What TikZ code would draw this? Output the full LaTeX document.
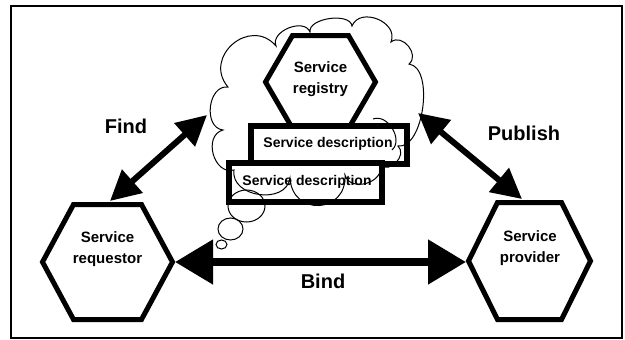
\documentclass[tikz,border=0pt]{standalone}
\usepackage{fontspec}
\setmainfont{Liberation Sans}
\usetikzlibrary{arrows.meta}
\newcommand{\hexagonat}[5]{%
  \draw[hexline] (#1-#3,#2) -- (#1-#5,#2-#4) -- (#1+#5,#2-#4) -- (#1+#3,#2)
    -- (#1+#5,#2+#4) -- (#1-#5,#2+#4) -- cycle;}
\begin{document}
\begin{tikzpicture}[x=1pt,y=-1pt,
  hexline/.style={line width=5pt, fill=white, line join=miter},
  descbox/.style={draw, line width=6pt, fill=white, inner sep=0pt},
  lbl/.style={font=\fontsize{20}{24}\selectfont\bfseries, inner sep=0pt},
  hextext/.style={font=\fontsize{15}{21}\selectfont\bfseries, align=center, inner sep=0pt},
  desctext/.style={font=\fontsize{14}{16}\selectfont\bfseries},
  cloudline/.style={line width=1pt},
  fparrow/.style={line width=6pt, {Triangle[length=30pt,width=30pt]}-{Triangle[length=30pt,width=30pt]}},
  bindarrow/.style={line width=8pt, {Triangle[length=38pt,width=43pt]}-{Triangle[length=38pt,width=43pt]}}
]
\useasboundingbox (0,0) rectangle (625,340);
\draw[line width=2pt] (11,5.7) rectangle (621.7,338.3);

% anchor points
\coordinate (reqN) at (110,201);
\coordinate (reqE) at (175,262);
\coordinate (provN) at (522,199);
\coordinate (provW) at (466,262);
\coordinate (cloudL) at (207,115);
\coordinate (cloudR) at (418,113);

% arrows
\draw[fparrow] (reqN) -- (cloudL);
\draw[fparrow] (cloudR) -- (provN);
\draw[bindarrow] (reqE) -- (provW);

% hexagons
\hexagonat{107.5}{262}{65}{57.5}{34}
\hexagonat{529.5}{261}{61}{58.5}{32}
\hexagonat{320.5}{82}{55}{46.5}{28}

% hexagon texts
\node[hextext] (req) at (107.5,249.5) {Service\\requestor};
\node[hextext] (prov) at (530,248) {Service\\provider};
\node[hextext] (reg) at (320.5,79) {Service\\registry};

% description boxes
\node[descbox, minimum width=156pt, minimum height=37.4pt] (desc1) at (329,145) {};
\node[descbox, minimum width=153pt, minimum height=39pt] (desc2) at (305.5,182.5) {};
\node[desctext, anchor=base] (d1) at (328,147) {Service description};
\node[desctext, anchor=base] (d2) at (307,185) {Service description};

% labels
\node[lbl] (find) at (126,126) {Find};
\node[lbl] (publish) at (524,133) {Publish};
\node[lbl] (bind) at (323,281.5) {Bind};

% cloud
\draw[cloudline]
  (223,130) to[bend left=90, looseness=1.2] (228,87)
  to[bend left=90, looseness=1.6] (276,46)
  to[bend left=90, looseness=1.1] (310,32)
  to[bend left=90, looseness=0.85] (352,26)
  to[bend left=90, looseness=1.3] (391,42)
  to[bend left=90, looseness=1.3] (409,64)
  to[bend left=90, looseness=0.8] (398,146)
  to[bend left=90, looseness=1.3] (380,165)
  to[bend left=90, looseness=1.3] (345,175)
  to[bend left=90, looseness=1.8] (290,178)
  to[bend left=90, looseness=1.25] (234,170)
  to[bend left=90, looseness=1.3] cycle;
\draw[cloudline] (373,119) to[bend left=80, looseness=1.1] (392,150);

% thought bubbles
\draw[cloudline] (246.5,206) ellipse [x radius=18.5, y radius=16];
\draw[cloudline] (230.5,229) ellipse [x radius=12.5, y radius=11];
\draw[cloudline] (221.5,244.5) ellipse [x radius=5.5, y radius=4.5];
\end{tikzpicture}
\end{document}
